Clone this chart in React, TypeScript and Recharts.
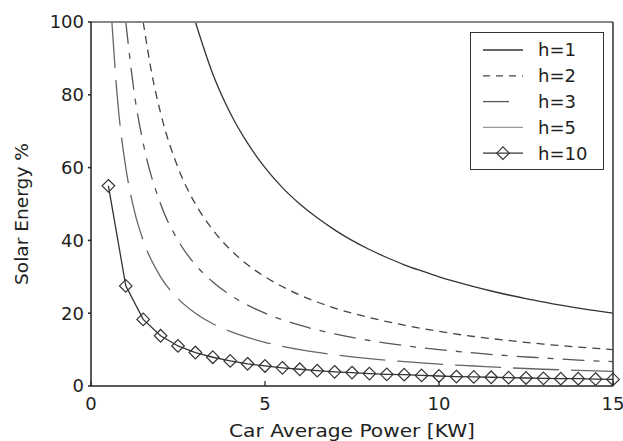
import React from "react";
import { LineChart, Line, XAxis, YAxis } from "recharts";

// car average power [KW] and solar energy share [%]
const h1Power = [3, 3.5, 4, 4.5, 5, 5.5, 6, 6.5, 7, 7.5, 8, 8.5, 9, 9.5, 10, 10.5, 11, 11.5, 12, 12.5, 13, 13.5, 14, 14.5, 15];
const h1Values = [100, 85.7, 75, 66.7, 60, 54.5, 50, 46.2, 42.9, 40, 37.5, 35.3, 33.3, 31.6, 30, 28.6, 27.3, 26.1, 25, 24, 23.1, 22.2, 21.4, 20.7, 20];

const h2Power = [1.5, 1.75, 2, 2.5, 3, 3.5, 4, 4.5, 5, 6, 7, 8, 9, 10, 11, 12, 13, 14, 15];
const h2Values = [100, 85.7, 75, 60, 50, 42.9, 37.5, 33.3, 30, 25, 21.4, 18.8, 16.7, 15, 13.6, 12.5, 11.5, 10.7, 10];

const h3Power = [1, 1.25, 1.5, 2, 2.5, 3, 3.5, 4, 5, 6, 7, 8, 9, 10, 11, 12, 13, 14, 15];
const h3Values = [100, 80, 66.7, 50, 40, 33.3, 28.6, 25, 20, 16.7, 14.3, 12.5, 11.1, 10, 9.1, 8.3, 7.7, 7.1, 6.7];

const h5Power = [0.6, 0.75, 1, 1.25, 1.5, 2, 2.5, 3, 3.5, 4, 5, 6, 7, 8, 9, 10, 11, 12, 13, 14, 15];
const h5Values = [100, 80, 60, 48, 40, 30, 24, 20, 17.1, 15, 12, 10, 8.6, 7.5, 6.7, 6, 5.5, 5, 4.6, 4.3, 4];

const h10Power = [0.5, 1, 1.5, 2, 2.5, 3, 3.5, 4, 4.5, 5, 5.5, 6, 6.5, 7, 7.5, 8, 8.5, 9, 9.5, 10, 10.5, 11, 11.5, 12, 12.5, 13, 13.5, 14, 14.5, 15];
const h10Values = [55, 27.5, 18.3, 13.8, 11, 9.2, 7.9, 6.9, 6.1, 5.5, 5, 4.6, 4.2, 3.9, 3.7, 3.4, 3.2, 3.1, 2.9, 2.75, 2.6, 2.5, 2.4, 2.3, 2.2, 2.1, 2.0, 2.0, 1.9, 1.8];

const xTicks = [0, 5, 10, 15];
const yTicks = [0, 20, 40, 60, 80, 100];

const toRows = (xs: number[], ys: number[]) => xs.map((p, i) => ({ power: p, value: ys[i] }));

const FONT = "'DejaVu Sans', sans-serif";

const series = [
  { name: "h=1", data: toRows(h1Power, h1Values), color: "#333", dash: undefined, legendDash: undefined, type: "monotone" },
  { name: "h=2", data: toRows(h2Power, h2Values), color: "#444", dash: "8 6", legendDash: "7 6", type: "monotone" },
  { name: "h=3", data: toRows(h3Power, h3Values), color: "#555", dash: "22 9 6 9", legendDash: "26 30", type: "monotone" },
  { name: "h=5", data: toRows(h5Power, h5Values), color: "#666", dash: "46 12", legendDash: undefined, type: "monotone" },
  { name: "h=10", data: toRows(h10Power, h10Values), color: "#333", dash: undefined, legendDash: undefined, type: "linear", marker: true },
];

const Diamond = (props: any) => {
  const { cx, cy, index } = props;
  if (cx == null || cy == null) return <g key={index} />;
  const r = 6.3;
  return (
    <path
      key={index}
      d={`M${cx},${cy - r}L${cx + r},${cy}L${cx},${cy + r}L${cx - r},${cy}Z`}
      fill="none"
      stroke="#333"
      strokeWidth={1.2}
    />
  );
};

const XTick = (props: any) => {
  const { x, y, payload } = props;
  return (
    <g>
      <line x1={x} x2={x} y1={y - 11} y2={y - 16} stroke="#222" strokeWidth={1.2} />
      <text x={x} y={y} dy="0.71em" textAnchor="middle" fontSize={18} fontFamily={FONT} fill="#222">
        {payload.value}
      </text>
    </g>
  );
};

const NoLabel = () => <g />;

const Legend = () => (
  <div
    style={{
      position: "absolute",
      left: 470,
      top: 32,
      width: 132,
      height: 136,
      border: "1px solid #333",
      background: "#fff",
    }}
  >
    <svg width={132} height={136}>
      {series.map((s, i) => {
        const cy = 17 + i * 25.8;
        return (
          <g key={s.name}>
            <line
              x1={12}
              x2={52}
              y1={cy}
              y2={cy}
              stroke={s.name === "h=5" ? "#999" : s.color}
              strokeWidth={1.3}
              strokeDasharray={s.legendDash}
            />
            {s.marker && <Diamond cx={32} cy={cy} index={0} />}
            <text x={67} y={cy} dy="0.36em" fontSize={18} fontFamily={FONT} fill="#222">
              {s.name}
            </text>
          </g>
        );
      })}
    </svg>
  </div>
);

export default function App() {
  return (
    <div style={{ position: "absolute", left: 0, top: 0, width: 623, height: 441, background: "#fff" }}>
      <LineChart width={623} height={441} margin={{ top: 22, right: 10, left: 0, bottom: 0 }}>
        <XAxis
          dataKey="power"
          type="number"
          domain={[0, 15]}
          ticks={xTicks}
          allowDuplicatedCategory={false}
          height={55}
          tickSize={0}
          tickMargin={11}
          tickLine={false}
          tick={<XTick />}
          stroke="#222"
          strokeWidth={1.5}
          label={{
            content: (p: any) => {
              const vb = p.viewBox;
              return (
                <text
                  x={vb.x + vb.width / 2}
                  y={vb.y + 51}
                  textAnchor="middle"
                  fontSize={18}
                  fontFamily={FONT}
                  fill="#222"
                  textLength={246}
                  lengthAdjust="spacingAndGlyphs"
                >
                  Car Average Power [KW]
                </text>
              );
            },
          }}
        />
        <XAxis
          xAxisId="top"
          orientation="top"
          type="number"
          domain={[0, 15]}
          ticks={xTicks}
          mirror
          tick={<NoLabel />}
          tickSize={5}
          stroke="#888"
          strokeWidth={2}
        />
        <YAxis
          type="number"
          domain={[0, 100]}
          ticks={yTicks}
          width={91}
          tickSize={3}
          tickMargin={4}
          stroke="#222"
          strokeWidth={1.5}
          tick={{ fontSize: 18, fontFamily: FONT, fill: "#222" }}
          label={{
            content: (p: any) => {
              const vb = p.viewBox;
              const cy = vb.y + vb.height / 2 + 10;
              return (
                <text
                  x={28}
                  y={cy}
                  transform={`rotate(-90, 28, ${cy})`}
                  textAnchor="middle"
                  fontSize={18}
                  fontFamily={FONT}
                  fill="#222"
                  textLength={142}
                  lengthAdjust="spacingAndGlyphs"
                >
                  Solar Energy %
                </text>
              );
            },
          }}
        />
        <YAxis
          yAxisId="right"
          orientation="right"
          type="number"
          domain={[0, 100]}
          ticks={yTicks}
          mirror
          tick={<NoLabel />}
          tickSize={5}
          stroke="#333"
          strokeWidth={1.5}
        />
        {series.map((s) => (
          <Line
            key={s.name}
            data={s.data}
            dataKey="value"
            name={s.name}
            type={s.type as any}
            stroke={s.color}
            strokeWidth={1.3}
            strokeDasharray={s.dash}
            dot={s.marker ? Diamond : false}
            activeDot={false}
            isAnimationActive={false}
          />
        ))}
      </LineChart>
      <Legend />
    </div>
  );
}
